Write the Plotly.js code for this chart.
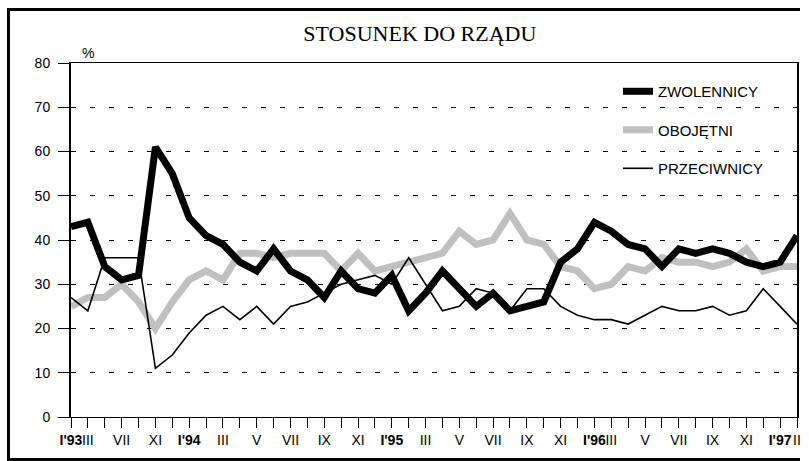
<!DOCTYPE html>
<html>
<head>
<meta charset="utf-8">
<script src="https://cdn.plot.ly/plotly-3.0.1.min.js"></script>
<style>
  html, body { margin: 0; padding: 0; background: #fff; }
  #chart { width: 809px; height: 461px; }
  #frame { position: absolute; left: 7px; top: 8px; width: 790px; height: 447px;
           border-left: 3px solid #000; border-top: 3px solid #000; border-bottom: 3px solid #000;
           border-right: none; pointer-events: none; }
</style>
</head>
<body>
<div id="chart"></div>
<div id="frame"></div>
<script>
// Survey waves (index along x) and their tick labels
const tickLabels = ["I'93","III","","VII","","XI","","I'94","","III","","V","","VII","","IX","","XI","",
  "I'95","","III","","V","","VII","","IX","","XI","","I'96","III","","V","","VII","","IX","","XI","","I'97","II"];
const boldLabels = ["I'93","I'94","I'95","I'96","I'97"];

const zwolennicy  = [43,44,34,31,32,61,55,45,41,39,35,33,38,33,31,27,33,29,28,32,24,28,33,29,25,28,24,25,26,35,38,44,42,39,38,34,38,37,38,37,35,34,35,41];
const obojetni    = [25,27,27,30,26,20,26,31,33,31,37,37,36,37,37,37,33,37,33,34,35,36,37,42,39,40,46,40,39,34,33,29,30,34,33,36,35,35,34,35,38,33,34,34];
const przeciwnicy = [27,24,36,36,36,11,14,19,23,25,22,25,21,25,26,28,30,31,32,30,36,30,24,25,29,28,24,29,29,25,23,22,22,21,23,25,24,24,25,23,24,29,25,21];

const seriesNames = ["ZWOLENNICY","OBOJĘTNI","PRZECIWNICY"];
const yTicks = [0,10,20,30,40,50,60,70,80];

const xIdx = tickLabels.map((_, i) => i);
const tickText = tickLabels.map(t => boldLabels.includes(t) ? "<b>" + t + "</b>" : t);

const traces = [
  { x: xIdx, y: obojetni, name: seriesNames[1], mode: "lines", legendgroup: "b", legendrank: 2,
    line: { color: "#c0c0c0", width: 7 } },
  { x: xIdx, y: zwolennicy, name: seriesNames[0], mode: "lines", legendgroup: "a", legendrank: 1,
    line: { color: "#000000", width: 7 } },
  { x: xIdx, y: przeciwnicy, name: seriesNames[2], mode: "lines", legendgroup: "c", legendrank: 3,
    line: { color: "#000000", width: 1.6 } }
];

const axisFont = { family: "Liberation Sans, Arial, sans-serif", size: 14, color: "#000" };
const legendFont = { family: "Liberation Sans, Arial, sans-serif", size: 15, color: "#000" };

const layout = {
  width: 809, height: 461,
  margin: { l: 71, r: 12, t: 63, b: 44, pad: 0 },
  paper_bgcolor: "#fff", plot_bgcolor: "#fff",
  title: { text: "STOSUNEK DO RZĄDU", font: { family: "Liberation Serif, Times New Roman, serif", size: 22, color: "#000" },
           xref: "container", x: 0.519, xanchor: "center", yref: "container", y: 0.928, yanchor: "middle" },
  xaxis: {
    range: [0, xIdx.length - 1], tickmode: "array", tickvals: xIdx, ticktext: tickText,
    ticks: "outside", ticklen: 10, tickwidth: 1, tickcolor: "#000",
    showline: true, linecolor: "#000", linewidth: 1, mirror: true,
    showgrid: false, zeroline: false, tickangle: 0, tickfont: axisFont, fixedrange: true
  },
  yaxis: {
    range: [0, 80], tickmode: "array", tickvals: yTicks,
    ticks: "outside", ticklen: 11, tickwidth: 1, tickcolor: "#000",
    showline: true, linecolor: "#000", linewidth: 2, mirror: true,
    showgrid: true, gridcolor: "#000", gridwidth: 1, griddash: "5px,14px",
    zeroline: false, tickfont: axisFont, ticklabelstandoff: 5, fixedrange: true
  },
  showlegend: true,
  legend: { x: 0.7534, y: 0.966, xanchor: "left", yanchor: "top", traceorder: "grouped",
            tracegroupgap: 16, itemwidth: 30, bgcolor: "rgba(0,0,0,0)",
            font: legendFont },
  annotations: [
    { text: "%", xref: "paper", yref: "paper", x: 0.024, y: 1.028, showarrow: false,
      xanchor: "center", yanchor: "middle", font: axisFont }
  ]
};

Plotly.newPlot("chart", traces, layout, { displayModeBar: false, staticPlot: true });
</script>
</body>
</html>
